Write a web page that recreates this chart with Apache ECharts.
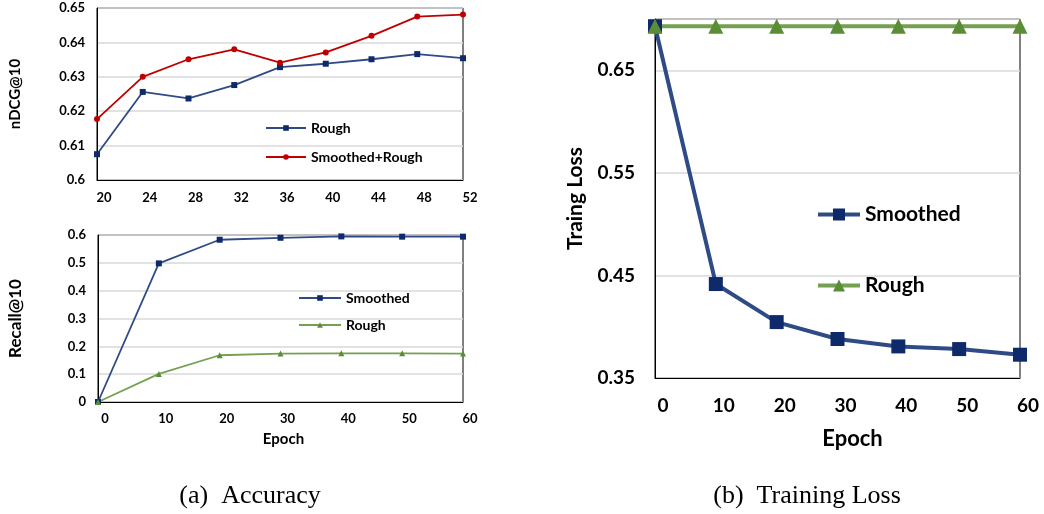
<!DOCTYPE html>
<html>
<head>
<meta charset="utf-8">
<script src="https://cdn.jsdelivr.net/npm/echarts@6/dist/echarts.min.js"></script>
<style>
  html, body { margin: 0; padding: 0; background: #ffffff; }
  #chart { width: 1044px; height: 514px; }
</style>
</head>
<body>
<div id="chart"></div>
<script>
// ---- Data ----
const ndcgEpochs = ['20', '24', '28', '32', '36', '40', '44', '48', '52'];
const ndcgRough = [0.6075, 0.6256, 0.6237, 0.6276, 0.6328, 0.6338, 0.6351, 0.6366, 0.6354];
const ndcgSmoothedRough = [0.6177, 0.6300, 0.6351, 0.6380, 0.6341, 0.6371, 0.6419, 0.6475, 0.6481];

const recallEpochs = ['0', '10', '20', '30', '40', '50', '60'];
const recallSmoothed = [0.0, 0.498, 0.583, 0.590, 0.595, 0.594, 0.594];
const recallRough = [0.0, 0.101, 0.168, 0.174, 0.175, 0.175, 0.174];

const lossEpochs = ['0', '10', '20', '30', '40', '50', '60'];
const lossSmoothed = [0.693, 0.4416, 0.4045, 0.388, 0.3808, 0.3782, 0.3727];
const lossRough = [0.693, 0.693, 0.693, 0.693, 0.693, 0.693, 0.693];

// ---- Styles ----
const FONT = 'Lato';
const BLUE_LINE = '#2F4B86';
const BLUE_MARK = '#0E2A6A';
const RED = '#C00000';
const GREEN_LINE = '#74A052';
const GREEN_MARK = '#5A8D36';
const GRID_COLOR = '#D9D9D9';

const chart = echarts.init(document.getElementById('chart'), null, { renderer: 'canvas' });

function xCat(gridIndex, data, fontSize, margin, name, nameGap, nameSize, padLeft, namePadLeft) {
  return {
    type: 'category', gridIndex, data, boundaryGap: false,
    axisLine: { show: true, lineStyle: { color: '#000', width: 1 } },
    axisTick: { show: false },
    splitLine: { show: false },
    axisLabel: { color: '#000', fontFamily: FONT, fontWeight: 'bold', fontSize, margin,
                 padding: [0, 0, 0, padLeft], interval: 0 },
    name, nameLocation: 'middle', nameGap,
    nameTextStyle: { color: '#000', fontFamily: FONT, fontWeight: 'bold', fontSize: nameSize,
                     padding: [0, 0, 0, namePadLeft] }
  };
}

function yVal(gridIndex, min, max, interval, fontSize, margin, name, nameGap, nameSize, formatter) {
  return {
    type: 'value', gridIndex, min, max, interval,
    axisLine: { show: true, lineStyle: { color: '#000', width: 1 } },
    axisTick: { show: false },
    splitLine: { show: true, lineStyle: { color: GRID_COLOR, width: 1.5 } },
    axisLabel: { color: '#000', fontFamily: FONT, fontWeight: 'bold', fontSize, margin, formatter },
    name, nameLocation: 'middle', nameGap, nameRotate: 90,
    nameTextStyle: { color: '#000', fontFamily: FONT, fontWeight: 'bold', fontSize: nameSize }
  };
}

const option = {
  backgroundColor: '#ffffff',
  animation: false,
  grid: [
    { left: 97, top: 8, width: 366, height: 172, show: true, borderColor: '#000', borderWidth: 1, containLabel: false },
    { left: 98, top: 235, width: 365, height: 167, show: true, borderColor: '#000', borderWidth: 1, containLabel: false },
    { left: 655, top: 19, width: 365, height: 359, show: true, borderColor: '#000', borderWidth: 1, containLabel: false }
  ],
  xAxis: [
    xCat(0, ndcgEpochs, 13, 11, '', 0, 13, 14, 0),
    xCat(1, recallEpochs, 13, 10, 'Epoch', 30, 15, 14, 6),
    xCat(2, lossEpochs, 19, 18, 'Epoch', 50, 22, 16, 30)
  ],
  yAxis: [
    yVal(0, 0.6, 0.65, 0.01, 13, 12, 'nDCG@10', 74, 15),
    yVal(1, 0, 0.6, 0.1, 13, 12, 'Recall@10', 74, 17),
    yVal(2, 0.35, 0.7, 0.1, 19, 20, 'Traing Loss', 69, 21,
         v => (v > 0.69 ? '' : v.toFixed(2)))
  ],
  legend: [
    {
      orient: 'vertical', left: 265, top: 121, padding: 0, itemGap: 15, itemWidth: 40, itemHeight: 7,
      data: ['Rough', 'Smoothed+Rough'],
      textStyle: { color: '#000', fontFamily: FONT, fontWeight: 'bold', fontSize: 14 },
      selectedMode: false
    },
    {
      orient: 'vertical', left: 298, top: 291, padding: 0, itemGap: 13, itemWidth: 42, itemHeight: 7,
      data: ['Smoothed', 'Rough '],
      textStyle: { color: '#000', fontFamily: FONT, fontWeight: 'bold', fontSize: 14 },
      selectedMode: false
    },
    {
      orient: 'vertical', left: 816, top: 204, padding: 0, itemGap: 50, itemWidth: 42, itemHeight: 15,
      data: ['Smoothed  ', 'Rough  '],
      lineStyle: { width: 4 },
      textStyle: { color: '#000', fontFamily: FONT, fontWeight: 'bold', fontSize: 21 },
      selectedMode: false
    }
  ],
  series: [
    {
      name: 'Rough', type: 'line', xAxisIndex: 0, yAxisIndex: 0, data: ndcgRough,
      symbol: 'rect', symbolSize: 6,
      lineStyle: { color: BLUE_LINE, width: 1.8 }, itemStyle: { color: BLUE_MARK }
    },
    {
      name: 'Smoothed+Rough', type: 'line', xAxisIndex: 0, yAxisIndex: 0, data: ndcgSmoothedRough,
      symbol: 'circle', symbolSize: 6,
      lineStyle: { color: RED, width: 1.8 }, itemStyle: { color: RED }
    },
    {
      name: 'Smoothed', type: 'line', xAxisIndex: 1, yAxisIndex: 1, data: recallSmoothed,
      symbol: 'rect', symbolSize: 6,
      lineStyle: { color: BLUE_LINE, width: 1.8 }, itemStyle: { color: BLUE_MARK }
    },
    {
      name: 'Rough ', type: 'line', xAxisIndex: 1, yAxisIndex: 1, data: recallRough,
      symbol: 'triangle', symbolSize: 6,
      lineStyle: { color: GREEN_LINE, width: 1.8 }, itemStyle: { color: GREEN_MARK }
    },
    {
      name: 'Smoothed  ', type: 'line', xAxisIndex: 2, yAxisIndex: 2, data: lossSmoothed,
      symbol: 'rect', symbolSize: 14,
      lineStyle: { color: BLUE_LINE, width: 4 }, itemStyle: { color: BLUE_MARK }
    },
    {
      name: 'Rough  ', type: 'line', xAxisIndex: 2, yAxisIndex: 2, data: lossRough,
      symbol: 'triangle', symbolSize: 15,
      lineStyle: { color: GREEN_LINE, width: 4 }, itemStyle: { color: GREEN_MARK }
    }
  ],
  graphic: [
    {
      type: 'text', x: 250, y: 496,
      style: { text: '(a)  Accuracy', fill: '#000', font: '26px "Liberation Serif"', textAlign: 'center', textVerticalAlign: 'middle' }
    },
    {
      type: 'text', x: 807, y: 496,
      style: { text: '(b)  Training Loss', fill: '#000', font: '26px "Liberation Serif"', textAlign: 'center', textVerticalAlign: 'middle' }
    }
  ]
};

chart.setOption(option);
</script>
</body>
</html>
